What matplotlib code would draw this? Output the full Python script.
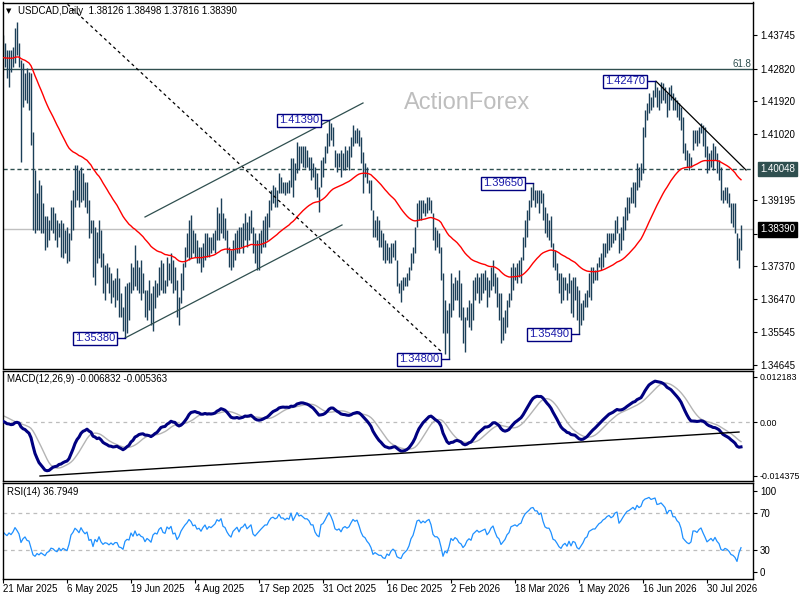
"""
plot.py
=======
USDCAD daily bar chart in the MT4 / ActionForex house style:
price bars with 55 EMA, swing labels and trendlines, plus MACD(12,26,9)
and RSI(14) panels underneath. Saves out.png (800x600).
"""

import numpy as np
import pandas as pd
import matplotlib
matplotlib.use("Agg")
import matplotlib.pyplot as plt

plt.rcParams["font.family"] = ["Liberation Sans", "DejaVu Sans"]

# ---------------------------------------------------------------------------
# Data (daily bars)
# ---------------------------------------------------------------------------
HIGH = [
    1.4374, 1.4352, 1.4333, 1.4333, 1.4333, 1.4342, 1.4393, 1.4411, 1.4352, 1.4306,
    1.4296, 1.4269, 1.4283, 1.4273, 1.4269, 1.4108, 1.4002, 1.3938, 1.3975, 1.3961,
    1.3910, 1.3874, 1.3874, 1.3864, 1.3901, 1.3901, 1.3883, 1.3864, 1.3855, 1.3864,
    1.3855, 1.3837, 1.3846, 1.3828, 1.3920, 1.3947, 1.4016, 1.4016, 1.4002, 1.4011,
    1.3993, 1.3970, 1.3970, 1.3920, 1.3864, 1.3864, 1.3846, 1.3832, 1.3864, 1.3837,
    1.3772, 1.3740, 1.3745, 1.3736, 1.3717, 1.3699, 1.3704, 1.3731, 1.3704, 1.3662,
    1.3625, 1.3681, 1.3690, 1.3694, 1.3745, 1.3736, 1.3796, 1.3754, 1.3736, 1.3754,
    1.3717, 1.3671, 1.3671, 1.3699, 1.3662, 1.3681, 1.3699, 1.3690, 1.3736, 1.3754,
    1.3745, 1.3699, 1.3763, 1.3745, 1.3772, 1.3754, 1.3736, 1.3699, 1.3653, 1.3717,
    1.3745, 1.3791, 1.3828, 1.3864, 1.3878, 1.3837, 1.3828, 1.3809, 1.3791, 1.3791,
    1.3800, 1.3828, 1.3828, 1.3818, 1.3818, 1.3828, 1.3837, 1.3901, 1.3883, 1.3924,
    1.3883, 1.3869, 1.3837, 1.3791, 1.3782, 1.3809, 1.3828, 1.3837, 1.3846, 1.3846,
    1.3855, 1.3883, 1.3860, 1.3874, 1.3892, 1.3846, 1.3828, 1.3809, 1.3828, 1.3837,
    1.3864, 1.3874, 1.3883, 1.3920, 1.3947, 1.3961, 1.3956, 1.3947, 1.3993, 1.3984,
    1.3970, 1.3970, 1.3970, 1.3975, 1.4034, 1.4034, 1.4021, 1.4080, 1.4067, 1.4067,
    1.4067, 1.4067, 1.4057, 1.4039, 1.4039, 1.4021, 1.4011, 1.3993, 1.3956, 1.4030,
    1.4039, 1.4067, 1.4103, 1.4139, 1.4131, 1.4122, 1.4057, 1.4048, 1.4048, 1.4057,
    1.4048, 1.4067, 1.4057, 1.4067, 1.4094, 1.4126, 1.4113, 1.4117, 1.4113, 1.4094,
    1.4053, 1.4021, 1.4011, 1.3975, 1.3975, 1.3892, 1.3864, 1.3874, 1.3864, 1.3837,
    1.3828, 1.3809, 1.3800, 1.3791, 1.3800, 1.3800, 1.3809, 1.3754, 1.3690, 1.3699,
    1.3708, 1.3708, 1.3717, 1.3736, 1.3772, 1.3791, 1.3846, 1.3910, 1.3920, 1.3920,
    1.3920, 1.3910, 1.3929, 1.3929, 1.3920, 1.3883, 1.3846, 1.3837, 1.3828, 1.3791,
    1.3717, 1.3644, 1.3616, 1.3635, 1.3717, 1.3690, 1.3708, 1.3699, 1.3727, 1.3690,
    1.3625, 1.3598, 1.3625, 1.3644, 1.3635, 1.3699, 1.3708, 1.3717, 1.3708, 1.3717,
    1.3717, 1.3727, 1.3708, 1.3699, 1.3736, 1.3754, 1.3717, 1.3708, 1.3662, 1.3662,
    1.3598, 1.3616, 1.3644, 1.3662, 1.3736, 1.3745, 1.3736, 1.3745, 1.3754, 1.3763,
    1.3818, 1.3864, 1.3892, 1.3920, 1.3956, 1.3965, 1.3947, 1.3947, 1.3947, 1.3947,
    1.3938, 1.3901, 1.3883, 1.3864, 1.3874, 1.3800, 1.3782, 1.3745, 1.3717, 1.3717,
    1.3708, 1.3708, 1.3690, 1.3717, 1.3699, 1.3708, 1.3708, 1.3681, 1.3671, 1.3635,
    1.3644, 1.3662, 1.3671, 1.3717, 1.3736, 1.3736, 1.3727, 1.3745, 1.3763, 1.3772,
    1.3800, 1.3800, 1.3828, 1.3828, 1.3828, 1.3828, 1.3864, 1.3874, 1.3828, 1.3846,
    1.3874, 1.3901, 1.3929, 1.3929, 1.3956, 1.3970, 1.3970, 1.4021, 1.4011, 1.4021,
    1.4122, 1.4168, 1.4186, 1.4214, 1.4204, 1.4223, 1.4247, 1.4232, 1.4223, 1.4246,
    1.4241, 1.4232, 1.4214, 1.4232, 1.4237, 1.4214, 1.4204, 1.4195, 1.4186, 1.4177,
    1.4149, 1.4076, 1.4057, 1.4048, 1.4039, 1.4113, 1.4113, 1.4113, 1.4122, 1.4131,
    1.4126, 1.4122, 1.4067, 1.4048, 1.4057, 1.4076, 1.4067, 1.4048, 1.4030, 1.4011,
    1.3947, 1.3956, 1.3956, 1.3938, 1.3910, 1.3910, 1.3910, 1.3828, 1.3816, 1.38498,
]

LOW = [
    1.4310, 1.4287, 1.4255, 1.4232, 1.4273, 1.4287, 1.4296, 1.4319, 1.4287, 1.4025,
    1.4177, 1.4195, 1.4186, 1.4168, 1.4071, 1.3837, 1.3828, 1.3837, 1.3837, 1.3828,
    1.3828, 1.3782, 1.3791, 1.3809, 1.3837, 1.3828, 1.3809, 1.3791, 1.3818, 1.3763,
    1.3759, 1.3772, 1.3745, 1.3750, 1.3809, 1.3837, 1.3901, 1.3920, 1.3901, 1.3915,
    1.3920, 1.3901, 1.3883, 1.3814, 1.3828, 1.3708, 1.3685, 1.3745, 1.3759, 1.3736,
    1.3662, 1.3644, 1.3690, 1.3662, 1.3635, 1.3653, 1.3625, 1.3644, 1.3598, 1.3598,
    1.3557, 1.3538, 1.3552, 1.3589, 1.3662, 1.3671, 1.3681, 1.3671, 1.3662, 1.3644,
    1.3662, 1.3598, 1.3589, 1.3616, 1.3575, 1.3557, 1.3621, 1.3653, 1.3658, 1.3671,
    1.3662, 1.3662, 1.3681, 1.3699, 1.3690, 1.3662, 1.3671, 1.3598, 1.3575, 1.3635,
    1.3671, 1.3736, 1.3763, 1.3754, 1.3759, 1.3772, 1.3763, 1.3745, 1.3745, 1.3722,
    1.3736, 1.3754, 1.3763, 1.3763, 1.3772, 1.3782, 1.3772, 1.3809, 1.3809, 1.3828,
    1.3814, 1.3809, 1.3772, 1.3736, 1.3727, 1.3736, 1.3754, 1.3772, 1.3772, 1.3791,
    1.3772, 1.3809, 1.3791, 1.3809, 1.3828, 1.3772, 1.3745, 1.3727, 1.3727, 1.3772,
    1.3791, 1.3791, 1.3809, 1.3846, 1.3892, 1.3910, 1.3901, 1.3901, 1.3938, 1.3938,
    1.3938, 1.3933, 1.3938, 1.3938, 1.3956, 1.3929, 1.3975, 1.3993, 1.4002, 1.4021,
    1.4011, 1.4007, 1.4011, 1.4002, 1.3975, 1.3984, 1.3951, 1.3929, 1.3887, 1.3956,
    1.3984, 1.4021, 1.4048, 1.4067, 1.4085, 1.4067, 1.4011, 1.3998, 1.4011, 1.3984,
    1.4002, 1.4002, 1.4011, 1.4002, 1.4039, 1.4067, 1.4076, 1.4076, 1.4067, 1.4021,
    1.3938, 1.3984, 1.3966, 1.3938, 1.3892, 1.3818, 1.3818, 1.3809, 1.3791, 1.3791,
    1.3754, 1.3745, 1.3754, 1.3745, 1.3745, 1.3763, 1.3754, 1.3681, 1.3662, 1.3639,
    1.3671, 1.3681, 1.3681, 1.3699, 1.3727, 1.3745, 1.3772, 1.3846, 1.3864, 1.3864,
    1.3883, 1.3874, 1.3883, 1.3892, 1.3883, 1.3809, 1.3782, 1.3791, 1.3772, 1.3699,
    1.3552, 1.3496, 1.3552, 1.3480, 1.3598, 1.3616, 1.3644, 1.3644, 1.3598, 1.3589,
    1.3524, 1.3501, 1.3589, 1.3570, 1.3561, 1.3589, 1.3644, 1.3662, 1.3635, 1.3644,
    1.3662, 1.3671, 1.3625, 1.3653, 1.3671, 1.3681, 1.3662, 1.3625, 1.3589, 1.3524,
    1.3533, 1.3552, 1.3570, 1.3625, 1.3644, 1.3671, 1.3699, 1.3690, 1.3708, 1.3690,
    1.3754, 1.3791, 1.3818, 1.3864, 1.3901, 1.3920, 1.3901, 1.3910, 1.3883, 1.3910,
    1.3864, 1.3828, 1.3818, 1.3809, 1.3791, 1.3736, 1.3727, 1.3699, 1.3662, 1.3635,
    1.3644, 1.3671, 1.3644, 1.3662, 1.3607, 1.3598, 1.3644, 1.3589, 1.3549, 1.3575,
    1.3589, 1.3625, 1.3625, 1.3653, 1.3644, 1.3690, 1.3699, 1.3699, 1.3736, 1.3727,
    1.3736, 1.3763, 1.3772, 1.3782, 1.3791, 1.3800, 1.3809, 1.3828, 1.3772, 1.3782,
    1.3809, 1.3837, 1.3864, 1.3883, 1.3910, 1.3910, 1.3901, 1.3947, 1.3956, 1.3975,
    1.3993, 1.4094, 1.4140, 1.4159, 1.4168, 1.4177, 1.4204, 1.4177, 1.4168, 1.4186,
    1.4195, 1.4186, 1.4149, 1.4168, 1.4195, 1.4168, 1.4168, 1.4149, 1.4140, 1.4113,
    1.4048, 1.4030, 1.4011, 1.4002, 1.4011, 1.4057, 1.4076, 1.4067, 1.4076, 1.4103,
    1.4067, 1.4039, 1.3993, 1.4002, 1.4011, 1.4002, 1.4030, 1.3993, 1.3975, 1.3920,
    1.3910, 1.3920, 1.3910, 1.3901, 1.3855, 1.3846, 1.3828, 1.3754, 1.3731, 1.37816,
]

CLOSE = [
    1.4333, 1.4306, 1.4287, 1.4315, 1.4296, 1.4324, 1.4370, 1.4342, 1.4306, 1.4195,
    1.4232, 1.4251, 1.4204, 1.4195, 1.4085, 1.3920, 1.3874, 1.3901, 1.3864, 1.3883,
    1.3846, 1.3809, 1.3837, 1.3846, 1.3874, 1.3864, 1.3828, 1.3809, 1.3837, 1.3791,
    1.3809, 1.3791, 1.3772, 1.3818, 1.3901, 1.3929, 1.3975, 1.3956, 1.3929, 1.3984,
    1.3947, 1.3920, 1.3938, 1.3837, 1.3846, 1.3736, 1.3809, 1.3772, 1.3828, 1.3745,
    1.3699, 1.3717, 1.3708, 1.3681, 1.3699, 1.3671, 1.3690, 1.3690, 1.3625, 1.3616,
    1.3589, 1.3653, 1.3671, 1.3662, 1.3727, 1.3690, 1.3745, 1.3690, 1.3708, 1.3681,
    1.3671, 1.3616, 1.3644, 1.3625, 1.3598, 1.3662, 1.3681, 1.3671, 1.3717, 1.3736,
    1.3690, 1.3681, 1.3745, 1.3727, 1.3754, 1.3681, 1.3690, 1.3616, 1.3644, 1.3699,
    1.3736, 1.3772, 1.3800, 1.3846, 1.3828, 1.3791, 1.3800, 1.3763, 1.3772, 1.3745,
    1.3782, 1.3809, 1.3772, 1.3800, 1.3791, 1.3809, 1.3828, 1.3874, 1.3864, 1.3892,
    1.3837, 1.3828, 1.3791, 1.3763, 1.3745, 1.3791, 1.3809, 1.3828, 1.3791, 1.3828,
    1.3837, 1.3864, 1.3828, 1.3846, 1.3864, 1.3791, 1.3772, 1.3791, 1.3809, 1.3828,
    1.3846, 1.3864, 1.3864, 1.3901, 1.3929, 1.3938, 1.3929, 1.3938, 1.3975, 1.3956,
    1.3956, 1.3947, 1.3961, 1.3956, 1.4011, 1.3975, 1.4011, 1.4057, 1.4039, 1.4048,
    1.4039, 1.4030, 1.4030, 1.4021, 1.4002, 1.4002, 1.3966, 1.3947, 1.3938, 1.4011,
    1.4021, 1.4048, 1.4085, 1.4122, 1.4103, 1.4076, 1.4030, 1.4021, 1.4030, 1.4011,
    1.4039, 1.4048, 1.4039, 1.4048, 1.4076, 1.4103, 1.4094, 1.4103, 1.4076, 1.4039,
    1.4011, 1.4002, 1.3975, 1.3956, 1.3920, 1.3837, 1.3846, 1.3828, 1.3809, 1.3809,
    1.3772, 1.3763, 1.3782, 1.3763, 1.3782, 1.3791, 1.3772, 1.3699, 1.3681, 1.3671,
    1.3690, 1.3699, 1.3708, 1.3727, 1.3763, 1.3782, 1.3828, 1.3892, 1.3901, 1.3883,
    1.3901, 1.3892, 1.3910, 1.3920, 1.3892, 1.3828, 1.3809, 1.3809, 1.3791, 1.3717,
    1.3570, 1.3607, 1.3570, 1.3616, 1.3690, 1.3662, 1.3690, 1.3671, 1.3625, 1.3607,
    1.3552, 1.3570, 1.3607, 1.3625, 1.3607, 1.3662, 1.3681, 1.3699, 1.3681, 1.3690,
    1.3699, 1.3708, 1.3662, 1.3681, 1.3717, 1.3736, 1.3690, 1.3644, 1.3625, 1.3561,
    1.3579, 1.3598, 1.3635, 1.3653, 1.3708, 1.3717, 1.3727, 1.3717, 1.3736, 1.3745,
    1.3800, 1.3846, 1.3874, 1.3901, 1.3938, 1.3947, 1.3929, 1.3929, 1.3910, 1.3929,
    1.3883, 1.3846, 1.3837, 1.3837, 1.3809, 1.3754, 1.3745, 1.3717, 1.3681, 1.3662,
    1.3681, 1.3690, 1.3662, 1.3690, 1.3644, 1.3671, 1.3662, 1.3607, 1.3589, 1.3607,
    1.3625, 1.3653, 1.3662, 1.3699, 1.3708, 1.3717, 1.3717, 1.3736, 1.3754, 1.3763,
    1.3782, 1.3791, 1.3809, 1.3818, 1.3809, 1.3818, 1.3846, 1.3855, 1.3809, 1.3828,
    1.3855, 1.3883, 1.3910, 1.3920, 1.3938, 1.3956, 1.3947, 1.4002, 1.3993, 1.4011,
    1.4103, 1.4149, 1.4168, 1.4195, 1.4186, 1.4204, 1.4223, 1.4195, 1.4204, 1.4223,
    1.4214, 1.4204, 1.4177, 1.4214, 1.4214, 1.4186, 1.4186, 1.4168, 1.4159, 1.4131,
    1.4067, 1.4048, 1.4030, 1.4021, 1.4030, 1.4094, 1.4094, 1.4085, 1.4103, 1.4113,
    1.4085, 1.4057, 1.4021, 1.4030, 1.4039, 1.4021, 1.4039, 1.4011, 1.3993, 1.3938,
    1.3929, 1.3938, 1.3929, 1.3910, 1.3874, 1.3864, 1.3837, 1.3772, 1.3812, 1.38390,
]
LAST_OPEN = 1.38126

DATE_LABELS = [
    "21 Mar 2025", "6 May 2025", "19 Jun 2025", "4 Aug 2025", "17 Sep 2025",
    "31 Oct 2025", "16 Dec 2025", "2 Feb 2026", "18 Mar 2026", "1 May 2026",
    "16 Jun 2026", "30 Jul 2026",
]
BARS_PER_LABEL = 32

PRICE_TICKS = [1.43745, 1.42820, 1.41920, 1.41020, 1.39195, 1.38270,
               1.37370, 1.36470, 1.35545, 1.34645]
LEVEL_FIB = 1.42820
LEVEL_DASHED = 1.40048

# (bar index, price) of the labelled swing highs / lows
SWING_LABELS = [(163, 1.41390), (61, 1.35380), (223, 1.34800),
                (265, 1.39650), (288, 1.35490), (326, 1.42470)]

# trendlines as (bar index, price) pairs
TREND_DASHED = [(30, 1.4471), (220, 1.3497)]
CHANNEL_UPPER = [(71, 1.38726), (180, 1.41870)]
CHANNEL_LOWER = [(61, 1.35389), (169.5, 1.38506)]
TREND_DOWN = [(326.5, 1.42470), (371.5, 1.40022)]
MACD_TREND = [(18.5, -0.01446), (368, -0.00266)]

MACD_TICKS = [0.012183, 0.0, -0.014375]
MACD_TICK_LABELS = ["0.012183", "0.00", "-0.014375"]
RSI_LEVELS = [70, 30]

# indicator states at the left edge
EMA55_SEED = 1.4311
EMA12_SEED = 1.4340
EMA26_SEED = 1.4337
SIGNAL_SEED = 0.0019
RSI_GAIN_SEED = 0.0020
RSI_LOSS_SEED = 0.0020

# ---------------------------------------------------------------------------
# Style
# ---------------------------------------------------------------------------
W, H = 800, 600
BAR_COLOR = "#1B3F58"
DSG = "#2F4F4F"
NAVY = "#000080"
LABEL_BLUE = "#1A1AAA"
SILVER = "#BDBDBD"


def px_rect(left, top, right, bottom):
    """Axes rectangle from pixel edges (origin top-left)."""
    return [left / W, 1 - bottom / H, (right - left) / W, (bottom - top) / H]


def ema_seeded(values, span, seed):
    s = pd.Series([seed] + list(values))
    return s.ewm(span=span, adjust=False).mean().to_numpy()[1:]


def wilder_rsi(values, period, gain0, loss0):
    avg_g, avg_l = gain0, loss0
    out = []
    prev = None
    for c in values:
        if prev is not None:
            d = c - prev
            avg_g = (avg_g * (period - 1) + max(d, 0.0)) / period
            avg_l = (avg_l * (period - 1) + max(-d, 0.0)) / period
        out.append(100.0 * avg_g / (avg_g + avg_l))
        prev = c
    return np.array(out)


def style_panel(ax):
    ax.set_xlim(-0.25, 375)
    for s in ax.spines.values():
        s.set_color("black")
        s.set_linewidth(1.0)
    ax.yaxis.tick_right()
    ax.tick_params(axis="y", direction="out", length=3, width=0.8, pad=2,
                   labelsize=7, colors="black")
    ax.tick_params(axis="x", bottom=False, labelbottom=False)
    ax.set_facecolor("white")


def line(ax, pts, **kw):
    (x0, y0), (x1, y1) = pts
    ax.plot([x0, x1], [y0, y1], **kw)


def main():
    assert len(HIGH) == len(LOW) == len(CLOSE)
    n = len(CLOSE)
    idx = np.arange(n)
    close = np.array(CLOSE)

    ema55 = ema_seeded(close, 55, EMA55_SEED)
    macd = ema_seeded(close, 12, EMA12_SEED) - ema_seeded(close, 26, EMA26_SEED)
    sig = pd.Series([SIGNAL_SEED] * 8 + list(macd)).rolling(9).mean().to_numpy()[8:]
    rsi = wilder_rsi(close, 14, RSI_GAIN_SEED, RSI_LOSS_SEED)

    fig = plt.figure(figsize=(W / 100, H / 100), dpi=100)
    fig.patch.set_facecolor("white")

    ax_p = fig.add_axes(px_rect(2.5, 2.5, 753, 368.5))
    ax_m = fig.add_axes(px_rect(2.5, 370.5, 753, 481))
    ax_r = fig.add_axes(px_rect(2.5, 483, 753, 578.5))
    for ax in (ax_p, ax_m, ax_r):
        style_panel(ax)

    # --- price panel ---
    ax_p.set_ylim(1.34548, 1.44641)
    ax_p.axhline(LEVEL_FIB, color=DSG, lw=1.0, zorder=1)
    ax_p.axhline(LEVEL_DASHED, color=DSG, lw=1.0, ls=(0, (3, 2)), zorder=1)
    ax_p.axhline(close[-1], color="#C0C0C0", lw=1.0, zorder=1)
    ax_p.text(374, LEVEL_FIB, "61.8", ha="right", va="bottom", fontsize=7,
              color=DSG)

    ax_p.text(0.619, 0.725, "ActionForex", transform=ax_p.transAxes,
              ha="center", va="center", fontsize=17, color="#BEBEBE", zorder=0)

    ax_p.vlines(idx, LOW, HIGH, colors=BAR_COLOR, linewidth=1.0, zorder=2)
    ax_p.plot(idx, ema55, color="red", lw=1.0, zorder=3)

    line(ax_p, TREND_DASHED, color="black", lw=0.9, ls=(0, (2.5, 2.5)), zorder=3)
    line(ax_p, CHANNEL_UPPER, color=DSG, lw=0.9, zorder=3)
    line(ax_p, CHANNEL_LOWER, color=DSG, lw=0.9, zorder=3)
    line(ax_p, TREND_DOWN, color="black", lw=0.9, zorder=3)

    for i, p in SWING_LABELS:
        ax_p.plot([i - 5, i], [p, p], color=NAVY, lw=1.0, zorder=4)
        ax_p.text(i - 5, p, f"{p:.5f}", ha="right", va="center", fontsize=8,
                  color=LABEL_BLUE, zorder=5,
                  bbox=dict(boxstyle="square,pad=0.15", fc="white", ec=NAVY, lw=1.0))

    ax_p.set_yticks(PRICE_TICKS)
    ax_p.set_yticklabels([f"{v:.5f}" for v in PRICE_TICKS])
    ytr = ax_p.get_yaxis_transform()
    ax_p.text(1.0093, LEVEL_DASHED, f"{LEVEL_DASHED:.5f}", transform=ytr,
              ha="left", va="center", fontsize=7, color="white", zorder=6,
              bbox=dict(boxstyle="square,pad=0.25", fc=DSG, ec=DSG))
    ax_p.text(1.0093, close[-1], f"{close[-1]:.5f}", transform=ytr,
              ha="left", va="center", fontsize=7, color="white", zorder=6,
              bbox=dict(boxstyle="square,pad=0.25", fc="black", ec="black"))

    title = (f"USDCAD,Daily  {LAST_OPEN:.5f} {HIGH[-1]:.5f} "
             f"{LOW[-1]:.5f} {CLOSE[-1]:.5f}")
    ax_p.text(0.0207, 0.9768, title, transform=ax_p.transAxes, ha="left",
              va="center", fontsize=7, color="black")
    ax_p.text(0.0085, 0.9768, "\u25BC", transform=ax_p.transAxes, ha="center",
              va="center", fontsize=5, color="black", family="DejaVu Sans")

    # --- MACD panel ---
    ax_m.set_ylim(-0.015797, 0.013846)
    ax_m.axhline(0, color=SILVER, lw=0.9, ls=(0, (3, 3)), zorder=1)
    ax_m.plot(idx, sig, color="#B4B4B4", lw=1.0, zorder=2)
    ax_m.plot(idx, macd, color=NAVY, lw=2.2, zorder=3)
    line(ax_m, MACD_TREND, color="black", lw=1.0, zorder=4)
    ax_m.set_yticks(MACD_TICKS)
    ax_m.set_yticklabels(MACD_TICK_LABELS)
    ax_m.tick_params(axis="y", labelsize=6.4, pad=1.5)
    ax_m.text(0.006, 0.923, "MACD(12,26,9) -0.006832 -0.005363",
              transform=ax_m.transAxes, ha="left", va="center", fontsize=7)

    # --- RSI panel ---
    ax_r.set_ylim(-0.5, 102.7)
    for lvl in RSI_LEVELS:
        ax_r.axhline(lvl, color=SILVER, lw=0.9, ls=(0, (3, 3)), zorder=1)
    ax_r.plot(idx, rsi, color="#1E90FF", lw=0.9, zorder=2)
    ax_r.set_yticks([94, 70, 30, 6.5])
    ax_r.set_yticklabels(["100", "70", "30", "0"])
    ax_r.text(0.006, 0.906, "RSI(14) 36.7949", transform=ax_r.transAxes,
              ha="left", va="center", fontsize=7)

    ax_r.set_xticks(np.arange(len(DATE_LABELS)) * BARS_PER_LABEL)
    ax_r.set_xticklabels(DATE_LABELS, ha="left")
    ax_r.tick_params(axis="x", bottom=True, labelbottom=True, direction="out",
                     length=3, width=0.8, pad=1, labelsize=7)

    fig.savefig("out.png", dpi=100, facecolor="white")
    plt.close(fig)


if __name__ == "__main__":
    main()
